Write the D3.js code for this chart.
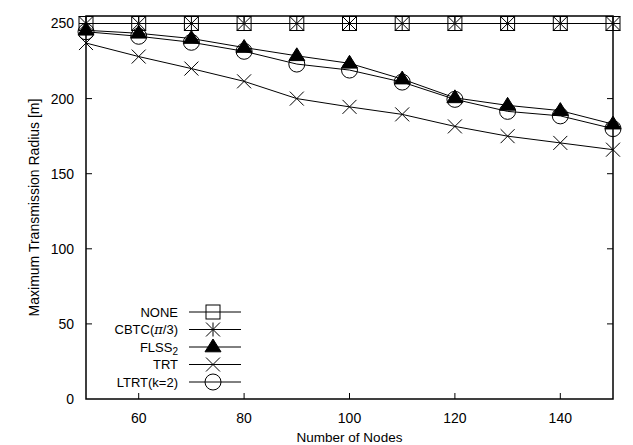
<!DOCTYPE html>
<html>
<head>
<meta charset="utf-8">
<script src="https://cdn.jsdelivr.net/npm/d3@7"></script>
<style>
  body { margin: 0; background: #fff; }
  svg { display: block; font-family: "Liberation Sans", Arial, sans-serif; }
</style>
</head>
<body>
<div id="chart"></div>
<script>
// Data
const nodes = [50, 60, 70, 80, 90, 100, 110, 120, 130, 140, 150];
const none  = [250, 250, 250, 250, 250, 250, 250, 250, 250, 250, 250];
const cbtc  = [250, 250, 250, 250, 250, 250, 250, 250, 250, 250, 250];
const flss2 = [245.5, 243.5, 240, 234, 228.5, 223.5, 213, 200.5, 195.5, 192, 183];
const trt   = [237, 228, 220, 211.5, 200, 194.5, 189.5, 181.5, 175, 170.5, 166];
const ltrt  = [244.5, 241.5, 237.5, 231.5, 223, 219, 211, 199.5, 191.5, 188.5, 180];
const xTicks = [60, 80, 100, 120, 140];
const yTicks = [0, 50, 100, 150, 200, 250];

const series = [
    { name: 'NONE', values: none, marker: 'box' },
    { name: 'CBTC', values: cbtc, marker: 'star' },
    { name: 'FLSS', values: flss2, marker: 'triangle' },
    { name: 'TRT', values: trt, marker: 'cross' },
    { name: 'LTRT(k=2)', values: ltrt, marker: 'circle' }
];

const width = 633, height = 445;
const margin = { top: 16, right: 20, bottom: 46, left: 86 };

const svg = d3.select('#chart').append('svg')
    .attr('width', width)
    .attr('height', height);

const x = d3.scaleLinear()
    .domain([50, 150])
    .range([margin.left, width - margin.right]);

const y = d3.scaleLinear()
    .domain([0, 255])
    .range([height - margin.bottom, margin.top]);

const x0 = x.range()[0], x1 = x.range()[1];
const y0 = y.range()[0], y1 = y.range()[1];

// ticks (inward, mirrored)
const tickLen = 6;
const axisG = svg.append('g').attr('stroke', '#000').attr('stroke-width', 1);
yTicks.forEach(t => {
    if (t === 0) return;
    axisG.append('line').attr('x1', x0).attr('x2', x0 + tickLen).attr('y1', y(t)).attr('y2', y(t));
    axisG.append('line').attr('x1', x1).attr('x2', x1 - tickLen).attr('y1', y(t)).attr('y2', y(t));
});
xTicks.forEach(t => {
    axisG.append('line').attr('x1', x(t)).attr('x2', x(t)).attr('y1', y0).attr('y2', y0 - tickLen);
    axisG.append('line').attr('x1', x(t)).attr('x2', x(t)).attr('y1', y1).attr('y2', y1 + tickLen);
});

// tick labels
svg.append('g').selectAll('text').data(yTicks).join('text')
    .attr('x', x0 - 12)
    .attr('y', d => y(d))
    .attr('dy', '0.35em')
    .attr('text-anchor', 'end')
    .attr('font-size', 14)
    .text(d => d);

svg.append('g').selectAll('text').data(xTicks).join('text')
    .attr('x', d => x(d))
    .attr('y', y0 + 24)
    .attr('text-anchor', 'middle')
    .attr('font-size', 14)
    .text(d => d);

// axis titles
svg.append('text')
    .attr('x', (x0 + x1) / 2)
    .attr('y', 442)
    .attr('text-anchor', 'middle')
    .attr('font-size', 13.5)
    .text('Number of Nodes');

svg.append('text')
    .attr('transform', `translate(39,${(y0 + y1) / 2}) rotate(-90)`)
    .attr('text-anchor', 'middle')
    .attr('font-size', 14)
    .text('Maximum Transmission Radius [m]');

// marker drawing
function drawMarker(g, type, cx, cy) {
    const s = 7;
    if (type === 'box') {
        g.append('rect').attr('x', cx - s).attr('y', cy - s).attr('width', 2 * s).attr('height', 2 * s)
            .attr('fill', 'none').attr('stroke', '#000');
    } else if (type === 'star') {
        g.append('path')
            .attr('d', `M${cx - s},${cy}H${cx + s}M${cx},${cy - s}V${cy + s}M${cx - s},${cy - s}L${cx + s},${cy + s}M${cx - s},${cy + s}L${cx + s},${cy - s}`)
            .attr('stroke', '#000').attr('fill', 'none');
    } else if (type === 'triangle') {
        const h = 8;
        g.append('path')
            .attr('d', `M${cx},${cy - h}L${cx + h},${cy + h * 0.6}L${cx - h},${cy + h * 0.6}Z`)
            .attr('fill', '#000').attr('stroke', '#000');
    } else if (type === 'cross') {
        g.append('path')
            .attr('d', `M${cx - s},${cy - s}L${cx + s},${cy + s}M${cx - s},${cy + s}L${cx + s},${cy - s}`)
            .attr('stroke', '#000').attr('fill', 'none');
    } else if (type === 'circle') {
        g.append('circle').attr('cx', cx).attr('cy', cy).attr('r', s + 1)
            .attr('fill', 'none').attr('stroke', '#000');
    }
}

const line = d3.line()
    .x(d => x(d[0]))
    .y(d => y(d[1]));

const plotG = svg.append('g');
series.forEach(s => {
    const pts = nodes.map((n, i) => [n, s.values[i]]);
    plotG.append('path')
        .attr('d', line(pts))
        .attr('fill', 'none')
        .attr('stroke', '#000')
        .attr('stroke-width', 1);
    const mg = plotG.append('g').attr('stroke-width', 1);
    pts.forEach(p => drawMarker(mg, s.marker, x(p[0]), y(p[1])));
});

// frame
svg.append('rect')
    .attr('x', x0).attr('y', y1)
    .attr('width', x1 - x0).attr('height', y0 - y1)
    .attr('fill', 'none').attr('stroke', '#000').attr('stroke-width', 1.5);

// legend
const legY = [312, 329.5, 347, 364.5, 382];
const legend = svg.append('g');
series.forEach((s, i) => {
    const ly = legY[i];
    const t = legend.append('text')
        .attr('x', 178)
        .attr('y', ly)
        .attr('dy', '0.35em')
        .attr('text-anchor', 'end')
        .attr('font-size', 13);
    if (s.name === 'CBTC') {
        t.append('tspan').text('CBTC(');
        t.append('tspan').attr('font-family', '"DejaVu Serif", "Liberation Serif", serif').attr('font-style', 'italic').text('π');
        t.append('tspan').text('/3)');
    } else if (s.name === 'FLSS') {
        t.append('tspan').text('FLSS');
        t.append('tspan').attr('font-size', 10).attr('dy', '0.35em').text('2');
    } else {
        t.text(s.name);
    }
    legend.append('line')
        .attr('x1', 189).attr('x2', 241)
        .attr('y1', ly).attr('y2', ly)
        .attr('stroke', '#000');
    drawMarker(legend, s.marker, 213, ly);
});
</script>
</body>
</html>
